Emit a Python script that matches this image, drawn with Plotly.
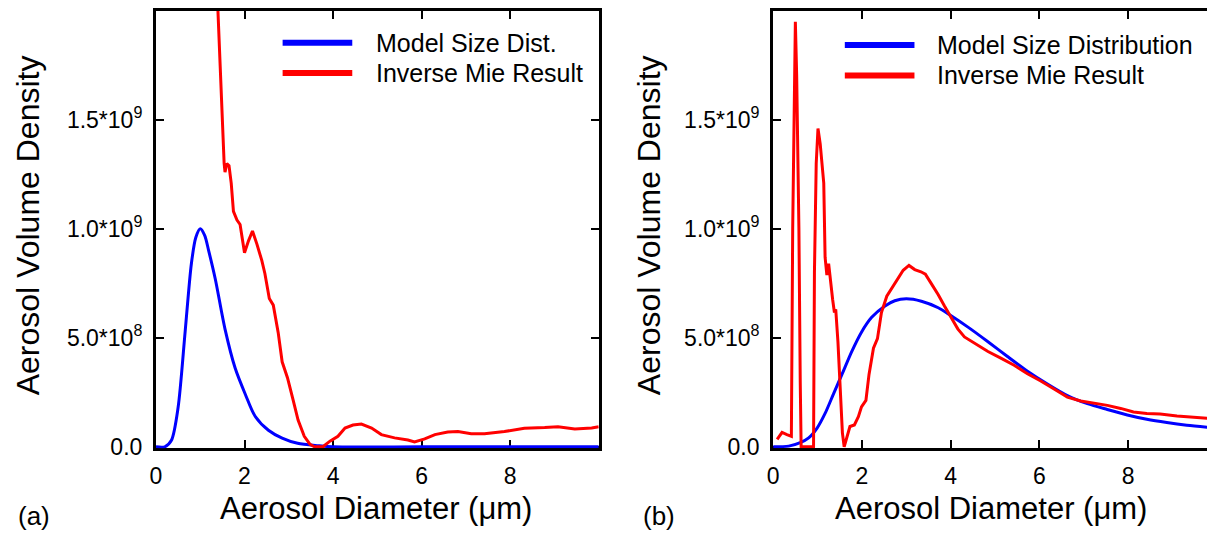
import plotly.graph_objects as go

# ---------------- data ----------------
# Panel (a)
a_model_x = [0.0, 0.2, 0.35, 0.5, 0.66, 0.8, 0.9, 1.0, 1.1, 1.19, 1.34, 1.56, 1.79, 2.02, 2.24,
             2.54, 2.85, 3.2, 3.67, 4.0, 6.0, 8.0, 10.0]
a_model_y = [0.0, 0.0, 0.03e9, 0.18e9, 0.53e9, 0.84e9, 0.96e9, 1.0e9, 0.97e9, 0.9e9, 0.77e9,
             0.54e9, 0.36e9, 0.24e9, 0.14e9, 0.076e9, 0.04e9, 0.016e9, 0.005e9, 0.0, 0.0, 0.0, 0.0]

a_inv_x = [1.38, 1.40, 1.45, 1.50, 1.54, 1.56, 1.60, 1.65, 1.70, 1.75, 1.83, 1.90, 2.0, 2.09,
           2.18, 2.28, 2.39, 2.46, 2.56, 2.65, 2.76, 2.85, 2.97, 3.10, 3.21, 3.35, 3.48, 3.58,
           3.77, 3.93, 4.11, 4.27, 4.45, 4.64, 4.87, 5.09, 5.39, 5.69, 5.84, 6.07, 6.30, 6.59,
           6.82, 7.12, 7.42, 7.87, 8.32, 8.78, 9.08, 9.46, 9.84, 10.0]
a_inv_y = [2.3e9, 2.0e9, 1.75e9, 1.45e9, 1.30e9, 1.26e9, 1.30e9, 1.29e9, 1.21e9, 1.08e9, 1.04e9,
           1.02e9, 0.89e9, 0.945e9, 0.99e9, 0.93e9, 0.855e9, 0.795e9, 0.68e9, 0.65e9, 0.525e9,
           0.39e9, 0.317e9, 0.213e9, 0.123e9, 0.048e9, 0.011e9, 0.0, 0.0, 0.026e9, 0.048e9,
           0.086e9, 0.10e9, 0.104e9, 0.086e9, 0.056e9, 0.041e9, 0.031e9, 0.022e9, 0.036e9,
           0.056e9, 0.068e9, 0.07e9, 0.06e9, 0.06e9, 0.07e9, 0.085e9, 0.088e9, 0.092e9,
           0.082e9, 0.086e9, 0.092e9]

# Panel (b)
b_model_x = [0.0, 0.35, 0.61, 0.80, 0.99, 1.17, 1.36, 1.55, 1.77, 1.99, 2.22, 2.52, 2.74, 3.0,
             3.34, 3.72, 4.01, 4.39, 4.84, 5.28, 5.73, 6.18, 6.63, 7.08, 7.53, 7.98, 8.42,
             8.87, 9.32, 9.78]
b_model_y = [0.0, 0.003e9, 0.019e9, 0.041e9, 0.086e9, 0.153e9, 0.243e9, 0.332e9, 0.437e9,
             0.526e9, 0.594e9, 0.646e9, 0.670e9, 0.679e9, 0.668e9, 0.638e9, 0.601e9, 0.549e9,
             0.482e9, 0.414e9, 0.347e9, 0.288e9, 0.235e9, 0.198e9, 0.171e9, 0.146e9, 0.126e9,
             0.111e9, 0.099e9, 0.090e9]

b_inv_x = [0.09, 0.20, 0.31, 0.41, 0.44, 0.47, 0.50, 0.53, 0.58, 0.61, 0.63, 0.91, 0.93, 0.97,
           1.01, 1.06, 1.14, 1.17, 1.21, 1.25, 1.28, 1.34, 1.38, 1.41, 1.46, 1.51, 1.56, 1.60,
           1.66, 1.73, 1.83, 1.92, 1.99, 2.09, 2.16, 2.26, 2.35, 2.44, 2.56, 2.67, 2.82, 2.93,
           3.06, 3.19, 3.33, 3.43, 3.56, 3.72, 3.86, 4.01, 4.16, 4.31, 4.54, 4.84, 5.13, 5.43,
           5.73, 6.03, 6.33, 6.63, 6.93, 7.23, 7.53, 7.83, 8.12, 8.42, 8.72, 9.10, 9.47, 9.78]
b_inv_y = [0.034e9, 0.066e9, 0.056e9, 0.048e9, 1.0e9, 1.6e9, 1.95e9, 1.7e9, 1.0e9, 0.3e9, 0.0,
           0.0, 0.8e9, 1.3e9, 1.46e9, 1.39e9, 1.21e9, 0.87e9, 0.788e9, 0.84e9, 0.78e9, 0.676e9,
           0.616e9, 0.631e9, 0.48e9, 0.258e9, 0.064e9, 0.0, 0.048e9, 0.093e9, 0.10e9, 0.138e9,
           0.183e9, 0.213e9, 0.332e9, 0.452e9, 0.496e9, 0.616e9, 0.691e9, 0.728e9, 0.773e9,
           0.81e9, 0.832e9, 0.813e9, 0.803e9, 0.792e9, 0.75e9, 0.698e9, 0.646e9, 0.594e9,
           0.541e9, 0.504e9, 0.474e9, 0.437e9, 0.407e9, 0.374e9, 0.335e9, 0.302e9, 0.265e9,
           0.228e9, 0.21e9, 0.201e9, 0.19e9, 0.176e9, 0.16e9, 0.153e9, 0.15e9, 0.141e9,
           0.134e9, 0.131e9]

x_tickvals = [0, 2, 4, 6, 8]
x_ticktext = ["0", "2", "4", "6", "8"]
y_tickvals = [0, 5e8, 1e9, 1.5e9]
y_ticktext = ["0.0", "5.0*10<sup>8</sup>", "1.0*10<sup>9</sup>", "1.5*10<sup>9</sup>"]

a_names = ["Model Size Dist.", "Inverse Mie Result"]
b_names = ["Model Size Distribution", "Inverse Mie Result"]
x_title = "Aerosol Diameter (\u03bcm)"
y_title = "Aerosol Volume Density"
panel_labels = ["(a)", "(b)"]

BLUE = "#0000ff"
RED = "#ff0000"
FONT = "Liberation Sans, Arial, sans-serif"

W, H = 1207, 548


def px(x):
    return x / W


def py(y):
    return (H - y) / H


fig = go.Figure()
fig.add_trace(go.Scatter(x=a_model_x, y=a_model_y, mode="lines", name=a_names[0],
                         line=dict(color=BLUE, width=3, shape="spline", smoothing=0.8),
                         xaxis="x", yaxis="y"))
fig.add_trace(go.Scatter(x=a_inv_x, y=a_inv_y, mode="lines", name=a_names[1],
                         line=dict(color=RED, width=3), xaxis="x", yaxis="y"))
fig.add_trace(go.Scatter(x=b_model_x, y=b_model_y, mode="lines", name=b_names[0],
                         line=dict(color=BLUE, width=3, shape="spline", smoothing=0.8),
                         xaxis="x2", yaxis="y2"))
fig.add_trace(go.Scatter(x=b_inv_x, y=b_inv_y, mode="lines", name=b_names[1],
                         line=dict(color=RED, width=3), xaxis="x2", yaxis="y2"))

y_bottom = 457.5
y_top = 11.1
ydom = [py(y_bottom), py(y_top)]
tickfont = dict(family=FONT, size=23, color="black")

common_x = dict(showline=True, linecolor="black", linewidth=3, ticks="inside", ticklen=8,
                tickwidth=2, tickcolor="black", tickvals=x_tickvals, ticktext=x_ticktext,
                tickfont=tickfont, showgrid=False, zeroline=False, layer="below traces",
                mirror="ticks", ticklabelstandoff=5)
common_y = dict(showline=True, linecolor="black", linewidth=3, ticks="inside", ticklen=8,
                tickwidth=2, tickcolor="black", tickvals=y_tickvals, ticktext=y_ticktext,
                tickfont=tickfont, showgrid=False, zeroline=False, layer="below traces",
                range=[-0.007e9, 2.0e9], ticklabelstandoff=6)

fig.update_layout(
    width=W, height=H, margin=dict(l=0, r=0, t=0, b=0),
    paper_bgcolor="white", plot_bgcolor="white", showlegend=False,
    xaxis=dict(common_x, domain=[px(150.7), px(595.7)], range=[0, 10], anchor="y"),
    yaxis=dict(common_y, domain=ydom, anchor="x", mirror="ticks"),
    xaxis2=dict(common_x, domain=[px(771), 1.0], range=[0, (W - 771) / 44.6], anchor="y2"),
    yaxis2=dict(common_y, domain=ydom, anchor="x2", mirror=False),
)

ann = []
shapes = []
# axis titles
for cx in (372, 990):
    ann.append(dict(text=x_title, xref="paper", yref="paper", x=px(cx), y=py(519),
                    xanchor="center", yanchor="middle", showarrow=False,
                    font=dict(family=FONT, size=31, color="black")))
for cx in (22, 647):
    ann.append(dict(text=y_title, xref="paper", yref="paper", x=px(cx), y=py(230),
                    xanchor="center", yanchor="middle", showarrow=False, textangle=-90,
                    font=dict(family=FONT, size=32, color="black")))
for lbl, cx in zip(panel_labels, (28, 656)):
    ann.append(dict(text=lbl, xref="paper", yref="paper", x=px(cx), y=py(527),
                    xanchor="center", yanchor="middle", showarrow=False,
                    font=dict(family=FONT, size=26, color="black")))

# legends
legends = [
    (a_names, 278, 348, 370, [43.5, 74.5]),
    (b_names, 843, 913, 934, [46, 77]),
]
for names, lx0, lx1, tx, ys in legends:
    for name, col, yy in zip(names, (BLUE, RED), ys):
        shapes.append(dict(type="line", xref="paper", yref="paper", x0=px(lx0), x1=px(lx1),
                           y0=py(yy), y1=py(yy), line=dict(color=col, width=6)))
        ann.append(dict(text=name, xref="paper", yref="paper", x=px(tx), y=py(yy),
                        xanchor="left", yanchor="middle", showarrow=False,
                        font=dict(family=FONT, size=25, color="black")))

fig.update_layout(annotations=ann, shapes=shapes)
fig.write_html("out.html", config={"displayModeBar": False},
               post_script="document.body.style.margin='0px';")
